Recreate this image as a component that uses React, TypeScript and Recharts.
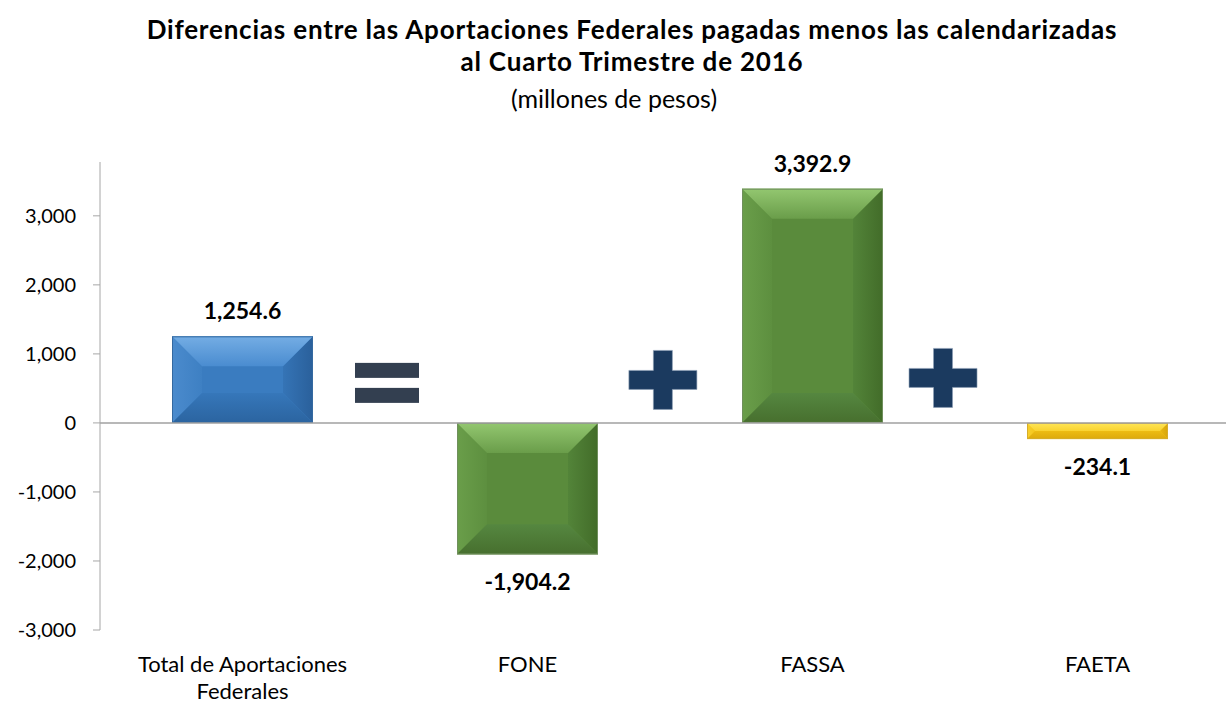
import React from 'react';
import { BarChart, Bar, XAxis, YAxis, ReferenceLine, ReferenceDot, LabelList } from 'recharts';

const categories = ['Total de Aportaciones Federales', 'FONE', 'FASSA', 'FAETA'];
const values = [1254.6, -1904.2, 3392.9, -234.1];
const barColorKeys = ['blue', 'green', 'green', 'yellow'];
const yTicks = [-3000, -2000, -1000, 0, 1000, 2000, 3000];
const titleLines = ['Diferencias entre las Aportaciones Federales pagadas menos las calendarizadas', 'al Cuarto Trimestre de 2016'];
const subtitle = '(millones de pesos)';

// operator signs between the bars (x in category-index units, y in value units)
const operatorSymbols = ['=', '+', '+'];
const operatorX = [0.507, 1.475, 2.458];
const operatorY = [580, 623, 652];

const data = categories.map((c, i) => ({ idx: i, name: c, value: values[i], colorKey: barColorKeys[i] }));
const xTicks = categories.map((_, i) => i);

const FONT = 'Lato, "Open Sans", sans-serif';

type Pal = { face: string; top: [string, string]; left: [string, string]; right: [string, string]; bottom: [string, string]; edge: string };
const PALETTE: Record<string, Pal> = {
  blue: {
    face: '#3a7cc0',
    top: ['#74ade4', '#4a8cd0'],
    left: ['#4b8bcd', '#3e80c3'],
    right: ['#2a609b', '#3574b6'],
    bottom: ['#2b64a0', '#3677ba'],
    edge: '#3469a0',
  },
  green: {
    face: '#5a8b3c',
    top: ['#93c770', '#6a9d4a'],
    left: ['#6a9e4a', '#5d8f3f'],
    right: ['#426c29', '#538439'],
    bottom: ['#476f2e', '#558740'],
    edge: '#6f8f5c',
  },
  yellow: {
    face: '#f4c417',
    top: ['#ffe657', '#f9d230'],
    left: ['#f8d02e', '#f4c61b'],
    right: ['#d7a50a', '#eab912'],
    bottom: ['#dca90c', '#edbc12'],
    edge: '#d6ad2a',
  },
};

const BevelBar = (props: any) => {
  const { x, y, width, height, payload, index } = props;
  if (width == null || height == null) return null;
  const y0 = height < 0 ? y + height : y;
  const h = Math.abs(height);
  const w = width;
  const p = PALETTE[payload.colorKey];
  const b = Math.min(30, h / 2, w / 2);
  const x1 = x + w;
  const y1 = y0 + h;
  const id = `bv${index}`;
  return (
    <g>
      <defs>
        <linearGradient id={`${id}t`} x1="0" y1="0" x2="0" y2="1">
          <stop offset="0" stopColor={p.top[0]} />
          <stop offset="1" stopColor={p.top[1]} />
        </linearGradient>
        <linearGradient id={`${id}l`} x1="0" y1="0" x2="1" y2="0">
          <stop offset="0" stopColor={p.left[0]} />
          <stop offset="1" stopColor={p.left[1]} />
        </linearGradient>
        <linearGradient id={`${id}r`} x1="1" y1="0" x2="0" y2="0">
          <stop offset="0" stopColor={p.right[0]} />
          <stop offset="1" stopColor={p.right[1]} />
        </linearGradient>
        <linearGradient id={`${id}b`} x1="0" y1="1" x2="0" y2="0">
          <stop offset="0" stopColor={p.bottom[0]} />
          <stop offset="1" stopColor={p.bottom[1]} />
        </linearGradient>
      </defs>
      <rect x={x} y={y0} width={w} height={h} fill={p.face} />
      <polygon points={`${x},${y0} ${x + b},${y0 + b} ${x + b},${y1 - b} ${x},${y1}`} fill={`url(#${id}l)`} />
      <polygon points={`${x1},${y0} ${x1},${y1} ${x1 - b},${y1 - b} ${x1 - b},${y0 + b}`} fill={`url(#${id}r)`} />
      <polygon points={`${x},${y1} ${x + b},${y1 - b} ${x1 - b},${y1 - b} ${x1},${y1}`} fill={`url(#${id}b)`} />
      <polygon points={`${x},${y0} ${x1},${y0} ${x1 - b},${y0 + b} ${x + b},${y0 + b}`} fill={`url(#${id}t)`} />
      <rect x={x + 0.5} y={y0 + 0.5} width={w - 1} height={Math.max(h - 1, 0)} fill="none" stroke={p.edge} strokeWidth={1} />
    </g>
  );
};

const fmt = (v: number) =>
  v.toLocaleString('en-US', { minimumFractionDigits: 1, maximumFractionDigits: 1 });

const ValueLabel = (props: any) => {
  const { x, y, width, height, value } = props;
  const cx = x + width / 2;
  const top = height < 0 ? y + height : y;
  const bottom = top + Math.abs(height);
  const ty = value >= 0 ? top - 17 : bottom + 36;
  return (
    <text x={cx} y={ty} textAnchor="middle" fontFamily={FONT} fontWeight={700} fontSize={23} fill="#000">
      {fmt(value)}
    </text>
  );
};

const wrap = (s: string, max: number) => {
  const words = s.split(' ');
  const lines: string[] = [];
  let cur = '';
  words.forEach((w) => {
    const next = cur ? cur + ' ' + w : w;
    if (next.length > max && cur) {
      lines.push(cur);
      cur = w;
    } else cur = next;
  });
  if (cur) lines.push(cur);
  return lines;
};

const XTick = (props: any) => {
  const { x, y, payload } = props;
  const label = categories[payload.value] ?? '';
  const lines = wrap(label, 22);
  return (
    <text x={x} y={y} textAnchor="middle" fontFamily={FONT} fontSize={22} fill="#000">
      {lines.map((l, i) => (
        <tspan key={i} x={x} dy={i === 0 ? 34 : 27}>
          {l}
        </tspan>
      ))}
    </text>
  );
};

const OperatorShape = (sym: string) => (props: any) => {
  const { cx, cy } = props;
  if (sym === '=') {
    return (
      <g fill="#333f50">
        <rect x={cx - 32} y={cy - 20} width={64} height={15} />
        <rect x={cx - 32} y={cy + 5} width={64} height={15} />
      </g>
    );
  }
  return (
    <g fill="#1b3a5f" stroke="#8da0b6" strokeWidth={0.6}>
      <path d={`M${cx - 9.5},${cy - 29.5} h19 v20 h24.5 v19 h-24.5 v20 h-19 v-20 h-24.5 v-19 h24.5 z`} />
    </g>
  );
};

export default function App() {
  return (
    <div
      style={{
        position: 'absolute',
        left: 0,
        top: 0,
        width: 1226,
        height: 704,
        overflow: 'hidden',
        background: '#fff',
        fontFamily: FONT,
      }}
    >
      <div
        style={{
          position: 'absolute',
          left: 0,
          top: 13,
          width: 1264,
          textAlign: 'center',
          fontWeight: 700,
          fontSize: 26,
          letterSpacing: 0.8,
          lineHeight: '32px',
          color: '#000',
          whiteSpace: 'nowrap',
        }}
      >
        <div>{titleLines[0]}</div>
        <div>{titleLines[1]}</div>
      </div>
      <div
        style={{
          position: 'absolute',
          left: 0,
          top: 84,
          width: 1228,
          textAlign: 'center',
          fontSize: 25,
          lineHeight: '28px',
          color: '#000',
        }}
      >
        {subtitle}
      </div>
      <div style={{ position: 'absolute', left: 0, top: 0 }}>
        <BarChart width={1240} height={704} data={data} margin={{ top: 162, right: 0, bottom: 0, left: 0 }} barSize={141}>
          <XAxis
            dataKey="idx"
            type="number"
            domain={[-0.5, 3.5]}
            allowDataOverflow
            ticks={xTicks}
            height={74}
            axisLine={false}
            tickLine={false}
            tick={<XTick />}
            interval={0}
          />
          <YAxis
            width={100}
            domain={[-3000, 3780]}
            ticks={yTicks}
            allowDataOverflow
            axisLine={{ stroke: '#a6a6a6' }}
            tickLine={{ stroke: '#a6a6a6' }}
            tickSize={7}
            tickMargin={17}
            tickFormatter={(v: number) => v.toLocaleString('en-US')}
            tick={{ fill: '#000', fontSize: 20, fontFamily: FONT }}
          />
          <ReferenceLine y={0} stroke="#a0a0a0" strokeWidth={1.5} />
          <Bar dataKey="value" shape={<BevelBar />} isAnimationActive={false}>
            <LabelList dataKey="value" content={<ValueLabel />} />
          </Bar>
          {operatorSymbols.map((s, i) => (
            <ReferenceDot key={i} x={operatorX[i]} y={operatorY[i]} shape={OperatorShape(s)} ifOverflow="visible" />
          ))}
        </BarChart>
      </div>
    </div>
  );
}
